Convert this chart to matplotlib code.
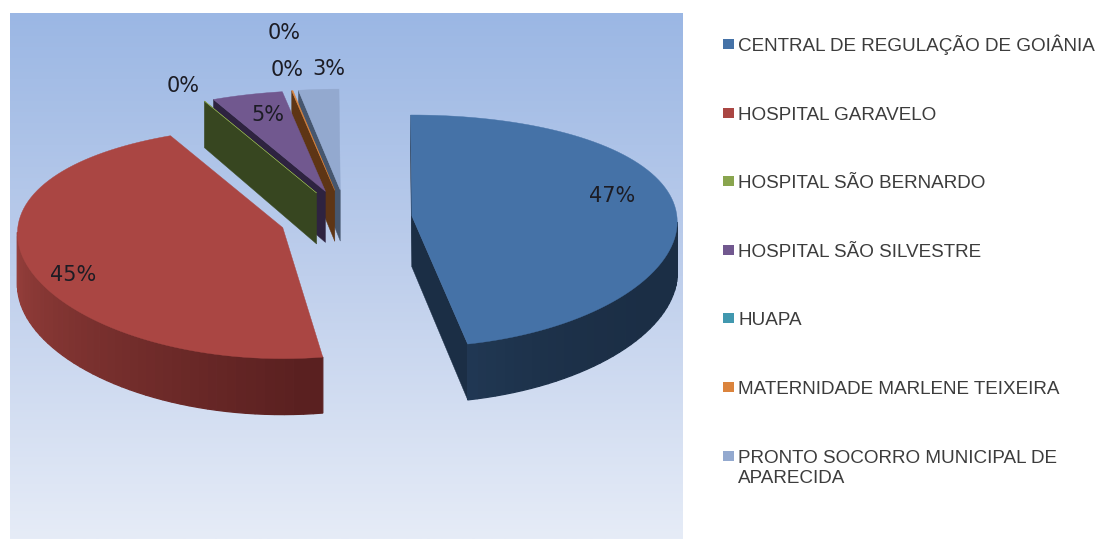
import numpy as np
import matplotlib
matplotlib.use("Agg")
import matplotlib.pyplot as plt
from matplotlib.patches import Polygon, Rectangle
from matplotlib.colors import LinearSegmentedColormap, to_rgb

# ---- data -------------------------------------------------------------
categories = ["CENTRAL DE REGULAÇÃO DE GOIÂNIA", "HOSPITAL GARAVELO", "HOSPITAL SÃO BERNARDO",
              "HOSPITAL SÃO SILVESTRE", "HUAPA", "MATERNIDADE MARLENE TEIXEIRA",
              "PRONTO SOCORRO MUNICIPAL DE\nAPARECIDA"]
values = [47.3, 45.4, 0.02, 4.6, 0.0, 0.08, 2.6]
pct_labels = ["47%", "45%", "0%", "5%", "0%", "0%", "3%"]

# ---- style ------------------------------------------------------------
top_colors = ["#4572a7", "#aa4643", "#89a54e", "#71588f", "#4198af", "#db843d", "#93a9cf"]
legend_colors = ["#4572a7", "#aa4643", "#89a54e", "#71588f", "#4198af", "#db843d", "#93a9cf"]
side_start = ["#1b2e45", "#5a2020", "#374620", "#2e2340", "#1f4a55", "#5e3515", "#46566e"]
side_end = ["#25405f", "#963f3b", "#374620", "#2e2340", "#1f4a55", "#5e3515", "#46566e"]
label_xy = [(612, 196), (73, 275), (183, 86), (268, 115), (284, 33), (287, 70), (329, 69)]
legend_y = [44, 113, 181, 250, 318, 387, 456]
gap_after = [3.3, 0, 0, 0, 0, 0, 0]   # degrees
start_angle = -0.3
cx, cy = 346, 219
rx, ry, persp_y, persp_x = 265, 116, 15, 0.05
explode = 0.25
draw_order = [6, 5, 4, 3, 2, 1, 0]

W, H = 1098, 539
fig = plt.figure(figsize=(W / 100, H / 100), dpi=100)
ax = fig.add_axes([0, 0, 1, 1])
ax.set_xlim(0, W)
ax.set_ylim(H, 0)
ax.axis("off")

# background gradient
cmap = LinearSegmentedColormap.from_list("bg", ["#9bb7e4", "#bfcfec", "#e6ecf7"])
ax.imshow(np.linspace(0, 1, 256).reshape(-1, 1), cmap=cmap, aspect="auto",
          extent=(10, 683, 539, 13), zorder=0)
ax.set_xlim(0, W)
ax.set_ylim(H, 0)


def rim(theta):
    """Offset of a rim point from a slice apex (theta: degrees clockwise from 12 o'clock)."""
    t = np.radians(theta)
    v = -np.cos(t)
    return rx * np.sin(t) * (1 + persp_x * v), v * (ry + persp_y * v), v


def depth(v):
    return 51 + 5 * v


total = sum(values)
sweep_total = 360 - sum(gap_after)
angles = []
a = start_angle
for val, gap in zip(values, gap_after):
    s = val / total * sweep_total
    angles.append((a, a + s))
    a += s + gap


def add_poly(pts, color, z, lw=0.3):
    ax.add_patch(Polygon(pts, closed=True, facecolor=color, edgecolor=color, lw=lw, zorder=z))


z = 2
for i in draw_order:
    if values[i] == 0:
        continue
    a0, a1 = angles[i]
    mid = np.radians((a0 + a1) / 2)
    vm = -np.cos(mid)
    ax_, ay_ = cx + explode * rx * np.sin(mid), cy + explode * ry * vm
    n = max(int((a1 - a0) / 2) + 2, 2)
    th = np.linspace(a0, a1, n)
    dx, dy, v = rim(th)
    xs, ys = ax_ + dx, ay_ + dy
    d = depth(v)
    apex_d = depth(0)
    c0, c1 = np.array(to_rgb(side_start[i])), np.array(to_rgb(side_end[i]))
    # radial faces that turn towards the viewer
    if xs[0] < ax_:
        add_poly([(ax_, ay_), (xs[0], ys[0]), (xs[0], ys[0] + d[0]), (ax_, ay_ + apex_d)], side_start[i], z)
    if ax_ < xs[-1]:
        add_poly([(xs[-1], ys[-1]), (ax_, ay_), (ax_, ay_ + apex_d), (xs[-1], ys[-1] + d[-1])], side_start[i], z)
    z += 1
    # outer rim
    for k in range(n - 1):
        if xs[k + 1] < xs[k]:
            if i == 0:
                f = np.clip((th[k] - 90) / 90, 0, 1)
                col = c0 + (c1 - c0) * f ** 4
            else:
                f = np.clip((th[k] - 175) / 90, 0, 1)
                col = c0 + (c1 - c0) * f
            add_poly([(xs[k], ys[k]), (xs[k + 1], ys[k + 1]),
                      (xs[k + 1], ys[k + 1] + d[k + 1]), (xs[k], ys[k] + d[k])], tuple(col), z, lw=0.9)
    z += 1
    # top face
    add_poly(np.column_stack([np.r_[ax_, xs], np.r_[ay_, ys]]), top_colors[i], z)
    z += 1

# data labels
for (x, y), lab in zip(label_xy, pct_labels):
    ax.text(x, y, lab, fontsize=15, family="DejaVu Sans", color="#1c1c24",
            ha="center", va="center", zorder=100)

# legend
for y, name, col in zip(legend_y, categories, legend_colors):
    multi = "\n" in name
    ax.add_patch(Rectangle((723, y - 5), 10.5, 10, facecolor=col, edgecolor="none", zorder=5))
    ax.text(738, y + 27 if multi else y + 7, name, fontsize=13.6, family="Liberation Sans",
            color="#3c3c3c", ha="left", va="baseline",
            linespacing=1.22, zorder=5)

fig.savefig("out.png", dpi=100)
